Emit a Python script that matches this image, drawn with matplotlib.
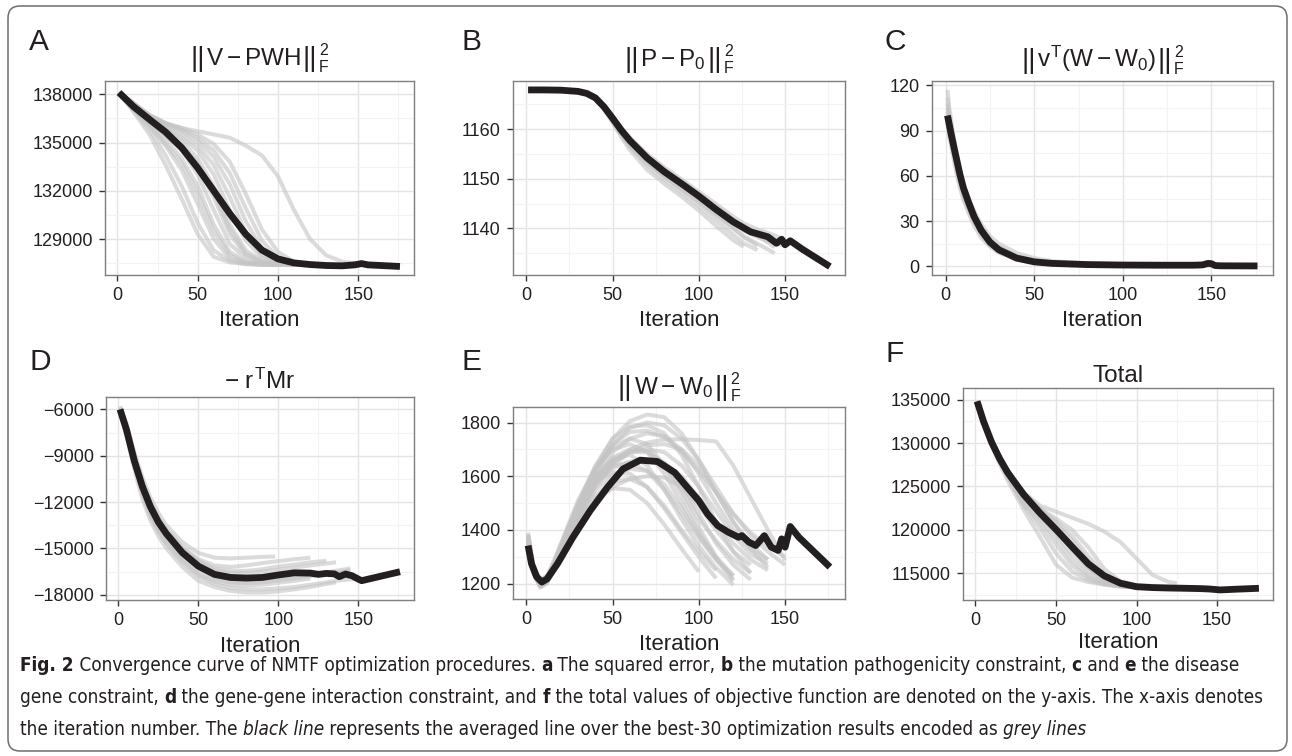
import matplotlib
matplotlib.use("Agg")
import matplotlib.pyplot as plt
from matplotlib import font_manager
from matplotlib.font_manager import FontProperties
from matplotlib.ticker import FixedLocator, FuncFormatter, AutoMinorLocator
from matplotlib.patches import FancyBboxPatch
from matplotlib.transforms import IdentityTransform

# ------------------------------------------------------------------ data
# Panel A : ||V - PWH||_F^2
A_grid = [1, 10, 20, 30, 40, 50, 60, 70, 80, 90, 100, 110, 120, 130, 140, 150]
A_grey = [
    [138100, 136900, 135500, 133600, 131500, 129300, 127900, 127550, 127450, 127400],
    [138100, 137000, 135800, 134200, 132300, 130000, 128300, 127650, 127450, 127400, 127380],
    [138100, 137100, 136000, 134800, 133300, 131200, 129000, 127800, 127500, 127420, 127400],
    [138100, 137200, 136200, 135200, 134000, 132300, 129900, 128200, 127600, 127450, 127400, 127380],
    [138100, 137300, 136400, 135500, 134500, 133000, 130800, 128700, 127800, 127500, 127420, 127400],
    [138100, 137250, 136300, 135400, 134600, 133500, 131600, 129300, 128000, 127550, 127430, 127400],
    [138100, 137300, 136500, 135800, 135100, 134000, 132300, 129900, 128300, 127650, 127450, 127400, 127380],
    [138100, 137350, 136500, 135900, 135300, 134500, 133000, 130800, 128900, 127850, 127500, 127420, 127400],
    [138100, 137400, 136600, 136000, 135500, 134800, 133600, 131600, 129400, 128000, 127550, 127430, 127400],
    [138100, 137400, 136600, 136100, 135700, 135100, 134100, 132400, 130100, 128400, 127700, 127480, 127420, 127400],
    [138100, 137450, 136700, 136200, 135800, 135300, 134500, 133100, 130900, 128900, 127850, 127520, 127430, 127400],
    [138100, 137450, 136700, 136200, 135900, 135500, 134900, 133800, 131800, 129600, 128200, 127600, 127450, 127400],
    [138100, 137400, 136700, 136200, 135900, 135700, 135500, 135300, 134800, 134200, 132900, 130800, 129000, 128000, 127600, 127480],
    [138100, 137150, 136100, 134900, 133700, 131800, 129500, 128000, 127550, 127430, 127400],
    [138100, 137300, 136400, 135600, 134800, 133700, 131900, 129600, 128100, 127600, 127440, 127400],
]
A_black_x = [1, 10, 20, 30, 40, 50, 60, 70, 80, 90, 100, 110, 120, 130, 140, 148, 152, 156, 176]
A_black_y = [138100, 137230, 136430, 135650, 134680, 133420, 132000, 130580, 129300, 128320,
             127770, 127520, 127420, 127360, 127340, 127400, 127480, 127400, 127300]

# Panel B : ||P - P0||_F^2
B_grid = [1, 10, 20, 30, 35, 40, 45, 50, 55, 60, 70, 80, 90, 100, 110, 120, 126, 134, 144, 150]
B_grey = [
    [1167.9, 1167.9, 1167.85, 1167.6, 1167.2, 1166.2, 1164.0, 1161.3, 1158.4, 1155.8, 1151.8, 1149.0,
     1146.4, 1143.6, 1140.5, 1137.6, 1136.3],
    [1167.9, 1167.9, 1167.85, 1167.6, 1167.2, 1166.3, 1164.3, 1161.7, 1159.0, 1156.5, 1152.7, 1149.8,
     1147.2, 1144.5, 1141.6, 1138.7, 1137.0, 1135.6],
    [1167.9, 1167.9, 1167.85, 1167.6, 1167.2, 1166.3, 1164.5, 1162.0, 1159.4, 1157.1, 1153.4, 1150.5,
     1147.9, 1145.3, 1142.6, 1139.9, 1138.4, 1136.9, 1135.0],
    [1167.9, 1167.9, 1167.85, 1167.6, 1167.3, 1166.5, 1164.8, 1162.6, 1160.3, 1158.3, 1155.0, 1152.3,
     1149.9, 1147.4, 1144.9, 1142.4, 1141.0, 1139.8, 1138.6, 1137.6],
    [1167.9, 1167.9, 1167.85, 1167.6, 1167.3, 1166.4, 1164.7, 1162.4, 1160.0, 1158.0, 1154.6, 1151.9,
     1149.5, 1147.0, 1144.4, 1141.8, 1140.3, 1138.6, 1136.2],
    [1167.9, 1167.9, 1167.85, 1167.6, 1167.2, 1166.3, 1164.4, 1161.9, 1159.4, 1157.3, 1153.8, 1151.1,
     1148.7, 1146.2, 1143.6, 1141.0, 1139.5, 1138.2, 1137.0, 1136.5],
    [1167.9, 1167.9, 1167.85, 1167.6, 1167.2, 1166.2, 1164.1, 1161.5, 1158.8, 1156.6, 1153.2, 1150.4,
     1148.0, 1145.5, 1142.8, 1140.1, 1138.2, 1136.5],
]
B_black_x = [1, 10, 20, 30, 35, 40, 45, 50, 55, 60, 70, 80, 90, 100, 110, 120, 130, 140, 145, 148,
             150, 153, 160, 176]
B_black_y = [1167.9, 1167.9, 1167.85, 1167.6, 1167.2, 1166.3, 1164.5, 1162.2, 1159.8, 1157.7, 1154.2,
             1151.4, 1149.0, 1146.5, 1143.8, 1141.3, 1139.3, 1138.3, 1137.0, 1137.8, 1136.7, 1137.5,
             1135.8, 1132.3]

# Panel C : ||v^T (W - W0)||_F^2
C_grid = [1, 2, 4, 6, 8, 10, 13, 16, 20, 25, 30, 40, 50, 60, 80, 100, 120, 125, 140, 150]
C_grey = [
    [117, 105, 90, 76, 64, 55, 45, 37, 28, 20, 15, 9, 5.5, 3.5, 2, 1.5, 1.2, 1.2],
    [112, 100, 85, 72, 61, 52, 42, 34, 26, 18, 13, 7, 4, 2.5, 1.5, 1.2, 1, 1, 0.9, 0.8],
    [105, 94, 80, 68, 57, 48, 39, 31, 23, 16, 11, 6, 3.5, 2, 1.2, 1, 0.9, 0.9, 0.8, 0.8],
    [100, 90, 77, 65, 55, 46, 37, 29, 21, 14, 10, 5, 3, 1.8, 1.1, 0.9, 0.8, 0.8, 0.8],
    [95, 86, 74, 62, 52, 44, 35, 27, 19, 13, 9, 4.5, 2.5, 1.5, 1, 0.8, 0.7, 0.7, 0.7, 0.7],
    [108, 97, 84, 71, 60, 51, 41, 33, 25, 17, 12, 6.5, 3.8, 2.3, 1.4, 1.1, 1, 1],
]
C_black_x = [1, 3, 5, 8, 10, 13, 16, 20, 25, 30, 40, 50, 60, 80, 100, 120, 140, 145, 148, 150, 152,
             155, 176]
C_black_y = [100, 88, 77, 61, 52, 42, 33, 24, 16, 11, 5.5, 3, 2, 1.2, 0.9, 0.8, 0.8, 1.0, 2.0, 1.8,
             0.6, 0.4, 0.3]

# Panel D : -r^T M r
D_grid = [1, 5, 10, 15, 20, 25, 30, 40, 50, 60, 70, 80, 90, 98, 110, 120, 130, 136, 145, 150]
D_grey = [
    [-5800, -6900, -8800, -10400, -11700, -12700, -13500, -14600, -15300, -15600, -15650, -15600, -15550, -15520],
    [-5900, -7100, -9100, -10700, -12000, -13000, -13800, -14900, -15700, -16100, -16200, -16100, -15950,
     -15850, -15700, -15600],
    [-6000, -7200, -9200, -10900, -12200, -13200, -14000, -15100, -15900, -16400, -16600, -16600, -16500,
     -16400, -16250, -16100, -15980, -15900],
    [-6000, -7300, -9400, -11100, -12400, -13400, -14200, -15400, -16300, -16850, -17100, -17150, -17100,
     -17000, -16850, -16700, -16550, -16450, -16300],
    [-6100, -7500, -9700, -11500, -12900, -13900, -14700, -15900, -16800, -17300, -17550, -17650, -17650,
     -17600, -17500, -17350, -17200, -17100, -17000, -16990],
    [-6200, -7700, -9900, -11800, -13200, -14200, -15000, -16200, -17100, -17500, -17750, -17850, -17850,
     -17800, -17650, -17500, -17300, -17200],
    [-6000, -7350, -9500, -11200, -12600, -13600, -14400, -15600, -16500, -17000, -17200, -17250, -17200,
     -17100, -16950, -16800, -16650, -16550, -16400],
    [-5900, -7100, -9100, -10800, -12100, -13100, -13900, -15000, -15800, -16300, -16450, -16450, -16350,
     -16200, -16050, -15900, -15800],
    [-6050, -7400, -9600, -11400, -12800, -13800, -14600, -15800, -16700, -17150, -17350, -17400, -17350,
     -17250, -17100, -16950],
]
D_black_x = [1, 5, 10, 15, 20, 25, 30, 40, 50, 60, 70, 80, 90, 100, 110, 120, 125, 130, 135, 138, 142,
             146, 150, 152, 176]
D_black_y = [-6000, -7300, -9350, -11000, -12300, -13300, -14050, -15280, -16150, -16680, -16880, -16920,
             -16880, -16720, -16580, -16600, -16680, -16620, -16650, -16830, -16660, -16770, -16990,
             -17090, -16510]

# Panel E : ||W - W0||_F^2
E_grid = [1, 4, 8, 12, 16, 20, 30, 40, 50, 60, 70, 80, 90, 100, 110, 120, 130, 140, 150]
E_grey = [
    [1370, 1260, 1210, 1225, 1270, 1330, 1490, 1630, 1740, 1805, 1830, 1820, 1760, 1660, 1540, 1430, 1350, 1290],
    [1360, 1255, 1205, 1215, 1255, 1310, 1450, 1570, 1650, 1700, 1725, 1737, 1738, 1735, 1730, 1640, 1520, 1400, 1287],
    [1380, 1265, 1210, 1225, 1275, 1340, 1500, 1640, 1740, 1785, 1790, 1760, 1680, 1560, 1430, 1320, 1240],
    [1350, 1250, 1200, 1215, 1260, 1320, 1470, 1600, 1690, 1740, 1760, 1750, 1700, 1610, 1500, 1400, 1330, 1290],
    [1390, 1270, 1215, 1230, 1285, 1350, 1510, 1630, 1700, 1720, 1690, 1610, 1500, 1390, 1300, 1230],
    [1340, 1240, 1190, 1205, 1250, 1310, 1460, 1590, 1670, 1700, 1695, 1640, 1550, 1440, 1360, 1290, 1240],
    [1360, 1245, 1185, 1200, 1250, 1310, 1460, 1590, 1660, 1680, 1640, 1550, 1440, 1340, 1260, 1195],
    [1370, 1255, 1200, 1215, 1265, 1325, 1470, 1580, 1640, 1650, 1620, 1550, 1460, 1370, 1290, 1230],
    [1385, 1265, 1210, 1225, 1280, 1345, 1490, 1580, 1615, 1610, 1560, 1480, 1390, 1300, 1220],
    [1350, 1245, 1195, 1210, 1255, 1310, 1440, 1530, 1580, 1590, 1560, 1490, 1400, 1320, 1250],
    [1340, 1240, 1190, 1205, 1250, 1300, 1430, 1520, 1555, 1550, 1500, 1420, 1330, 1245],
    [1355, 1250, 1200, 1212, 1250, 1300, 1410, 1500, 1560, 1590, 1600, 1595, 1560, 1490, 1400, 1320, 1270],
    [1345, 1245, 1195, 1208, 1250, 1305, 1440, 1560, 1640, 1690, 1715, 1720, 1700, 1640, 1540, 1430, 1330, 1260],
    [1375, 1260, 1205, 1220, 1270, 1330, 1480, 1600, 1665, 1690, 1690, 1650, 1570, 1460, 1350, 1270, 1215],
    [1365, 1255, 1205, 1218, 1262, 1320, 1460, 1570, 1630, 1655, 1660, 1650, 1600, 1520, 1430, 1350, 1290, 1250],
    [1360, 1250, 1200, 1215, 1260, 1325, 1480, 1620, 1720, 1765, 1770, 1745, 1690, 1620, 1540, 1460, 1390, 1340, 1300],
    [1375, 1262, 1205, 1220, 1270, 1335, 1495, 1630, 1710, 1740, 1720, 1640, 1530, 1410, 1300, 1215],
    [1350, 1248, 1198, 1212, 1255, 1312, 1450, 1550, 1605, 1628, 1620, 1570, 1480, 1380, 1290, 1210],
    [1365, 1255, 1203, 1216, 1262, 1322, 1465, 1580, 1650, 1690, 1700, 1690, 1640, 1560, 1470, 1380, 1310, 1275],
    [1355, 1250, 1200, 1214, 1258, 1318, 1470, 1610, 1715, 1780, 1800, 1790, 1740, 1660, 1560, 1460, 1380, 1320, 1270],
]
E_black_x = [1, 3, 6, 9, 12, 18, 27, 37, 47, 56, 66, 76, 86, 95, 100, 105, 111, 117, 123, 125, 129, 133,
             138, 142, 146, 148, 150, 153, 158, 176]
E_black_y = [1342, 1274, 1225, 1206, 1218, 1274, 1373, 1472, 1559, 1627, 1660, 1655, 1614, 1546, 1509,
             1460, 1416, 1392, 1373, 1379, 1355, 1342, 1379, 1336, 1324, 1367, 1336, 1413, 1373, 1262]

# Panel F : Total
F_grid = [1, 5, 10, 15, 20, 25, 30, 40, 50, 60, 70, 80, 90, 100, 110, 120, 125, 135, 145, 150]
F_grey = [
    [134900, 132400, 129800, 127600, 125700, 124000, 122300, 119200, 116000, 114500, 114000, 113700, 113500, 113400],
    [134800, 132600, 130300, 128500, 126900, 125500, 124300, 122800, 122100, 121400, 120700, 119800, 118600,
     116700, 114800, 114000, 113850],
    [134850, 132450, 130000, 127900, 126100, 124400, 122800, 120200, 117300, 115200, 114200, 113700, 113450, 113350],
    [134800, 132500, 130100, 128100, 126400, 124800, 123300, 121200, 119000, 116500, 114700, 113900, 113550,
     113400, 113350],
    [134800, 132550, 130250, 128300, 126700, 125200, 123900, 122000, 120300, 118200, 115800, 114300, 113700,
     113450, 113350, 113300],
    [134800, 132550, 130300, 128400, 126800, 125400, 124200, 122400, 121000, 119300, 117000, 114900, 113900,
     113550, 113400, 113350, 113320, 113300],
    [134850, 132500, 130150, 128200, 126500, 125000, 123600, 121600, 119600, 117200, 115200, 114100, 113600,
     113400, 113350, 113300, 113300, 113280, 113250],
    [134800, 132600, 130350, 128500, 126900, 125500, 124300, 122300, 120800, 118800, 116400, 114600, 113800,
     113600, 113550, 113500, 113450, 113400],
    [134850, 132450, 130050, 128000, 126200, 124600, 123000, 120800, 118300, 115900, 114500, 113800, 113500,
     113400, 113350, 113300],
    [134800, 132550, 130300, 128450, 126850, 125450, 124250, 122500, 121300, 120000, 118000, 115500, 114100,
     113600, 113450, 113400, 113380],
    [134850, 132500, 130200, 128300, 126600, 125100, 123800, 121800, 120000, 117800, 115600, 114200, 113650,
     113450, 113400, 113350],
]
F_black_x = [1, 5, 10, 15, 20, 30, 40, 50, 60, 70, 80, 90, 100, 110, 120, 130, 140, 145, 152, 160, 176]
F_black_y = [134810, 132500, 130100, 128200, 126600, 124050, 121950, 120050, 118050, 116100, 114700,
             113850, 113450, 113350, 113300, 113270, 113230, 113190, 113080, 113150, 113270]

X_TICKS = [0, 50, 100, 150]
A_yticks = [129000, 132000, 135000, 138000]
B_yticks = [1140, 1150, 1160]
C_yticks = [0, 30, 60, 90, 120]
D_yticks = [-18000, -15000, -12000, -9000, -6000]
E_yticks = [1200, 1400, 1600, 1800]
F_yticks = [115000, 120000, 125000, 130000, 135000]

letters = ["A", "B", "C", "D", "E", "F"]
title_inner = [r"$V - PWH$", r"$P - P_0$", r"$v^T(W - W_0)$", r"$-\ r^TMr$", r"$W - W_0$", "Total"]
title_norm = [True, True, True, False, True, False]
norm_bars, norm_sub, norm_sup = "||", "F", "2"
x_label = "Iteration"

caption_lines = [
    [("Fig. 2", "b"), (" Convergence curve of NMTF optimization procedures. ", "n"), ("a", "b"),
     (" The squared error, ", "n"), ("b", "b"), (" the mutation pathogenicity constraint, ", "n"),
     ("c", "b"), (" and ", "n"), ("e", "b"), (" the disease", "n")],
    [("gene constraint, ", "n"), ("d", "b"), (" the gene-gene interaction constraint, and ", "n"),
     ("f", "b"), (" the total values of objective function are denoted on the y-axis. The x-axis denotes", "n")],
    [("the iteration number. The ", "n"), ("black line", "i"),
     (" represents the averaged line over the best-30 optimization results encoded as ", "n"),
     ("grey lines", "i")],
]

# ------------------------------------------------------------------ style
W, H = 1292, 756
DARK = "#231f20"
GREY = "#c4c4c4"
plt.rcParams["font.family"] = ["Liberation Sans", "DejaVu Sans"]
plt.rcParams["mathtext.fontset"] = "custom"
plt.rcParams["mathtext.rm"] = "Liberation Sans"
plt.rcParams["mathtext.it"] = "Liberation Sans"
plt.rcParams["mathtext.sf"] = "Liberation Sans"
plt.rcParams["mathtext.bf"] = "Liberation Sans:bold"
plt.rcParams["axes.unicode_minus"] = True

fig = plt.figure(figsize=(W / 100, H / 100), dpi=100)
renderer = fig.canvas.get_renderer()

# rounded outer frame
frame = FancyBboxPatch((8, 756 - 751), 1279, 745, boxstyle="round,pad=0,rounding_size=12",
                       transform=IdentityTransform(), fill=False, edgecolor="#6d6e71", lw=1.1)
fig.patches.append(frame)

fmt = FuncFormatter(lambda v, p: f"{v:.0f}".replace("-", "\u2212"))

panels = [
    dict(rect=(105, 81, 414, 275), grid=A_grid, grey=A_grey, bx=A_black_x, by=A_black_y,
         yt=A_yticks, ylim=(126770, 138820)),
    dict(rect=(513, 81, 845, 275), grid=B_grid, grey=B_grey, bx=B_black_x, by=B_black_y,
         yt=B_yticks, ylim=(1130.6, 1169.7)),
    dict(rect=(932, 81, 1273, 275), grid=C_grid, grey=C_grey, bx=C_black_x, by=C_black_y,
         yt=C_yticks, ylim=(-5.7, 122.9)),
    dict(rect=(106, 397, 414, 600), grid=D_grid, grey=D_grey, bx=D_black_x, by=D_black_y,
         yt=D_yticks, ylim=(-18340, -5200)),
    dict(rect=(513, 407, 845, 599), grid=E_grid, grey=E_grey, bx=E_black_x, by=E_black_y,
         yt=E_yticks, ylim=(1143, 1858)),
    dict(rect=(963, 388, 1273, 600), grid=F_grid, grey=F_grey, bx=F_black_x, by=F_black_y,
         yt=F_yticks, ylim=(111920, 136350)),
]
letter_pos = [(29, 50), (462, 50), (885, 50), (29, 370), (462, 370), (885, 362)]
title_base = [65, 66, 67, 389, 394, 382]
xlabel_base = [326, 326, 326, 652, 650, 648]


def fx(x):
    return x / W


def fy(y):
    return 1 - y / H


def text_w(s, fp, ismath=False):
    if ismath:
        return renderer.get_text_width_height_descent(s, fp, ismath=True)[0]
    w1 = renderer.get_text_width_height_descent("|" + s + "|", fp, ismath=False)[0]
    w0 = renderer.get_text_width_height_descent("||", fp, ismath=False)[0]
    return w1 - w0


TITLE_SIZE, BAR_SIZE, SS_SIZE = 17.5, 20.5, 11.5


def draw_title(cx, base, inner, norm):
    fp_t = FontProperties(family="Liberation Sans", size=TITLE_SIZE)
    is_math = inner.startswith("$")
    if not norm:
        fig.text(fx(cx), fy(base), inner, ha="center", va="baseline", fontproperties=fp_t, color=DARK)
        return
    fp_b = FontProperties(family="Liberation Sans", size=BAR_SIZE)
    fp_s = FontProperties(family="Liberation Sans", size=SS_SIZE)
    wb = renderer.get_text_width_height_descent(norm_bars, fp_b, ismath=False)[0]
    wi = text_w(inner, fp_t, is_math)
    ws = max(text_w(norm_sub, fp_s), text_w(norm_sup, fp_s))
    gap = 1.5
    total = wb + gap + wi + gap + wb + 2 + ws
    x = cx - total / 2
    fig.text(fx(x), fy(base + 1), norm_bars, ha="left", va="baseline", fontproperties=fp_b, color=DARK)
    x += wb + gap
    fig.text(fx(x), fy(base), inner, ha="left", va="baseline", fontproperties=fp_t, color=DARK)
    x += wi + gap
    fig.text(fx(x), fy(base + 1), norm_bars, ha="left", va="baseline", fontproperties=fp_b, color=DARK)
    x += wb + 2
    fig.text(fx(x), fy(base - 10), norm_sup, ha="left", va="baseline", fontproperties=fp_s, color=DARK)
    fig.text(fx(x), fy(base + 7), norm_sub, ha="left", va="baseline", fontproperties=fp_s, color=DARK)


for i, p in enumerate(panels):
    l, t, r, b = p["rect"]
    ax = fig.add_axes([fx(l), fy(b), (r - l) / W, (b - t) / H])
    for ys in p["grey"]:
        ax.plot(p["grid"][:len(ys)], ys, color=GREY, alpha=0.6, lw=2.9,
                solid_capstyle="butt", solid_joinstyle="round", zorder=2)
    ax.plot(p["bx"], p["by"], color=DARK, lw=4.9, solid_capstyle="butt",
            solid_joinstyle="round", zorder=3)
    ax.set_xlim(-7.75, 184.75)
    ax.set_ylim(*p["ylim"])
    ax.xaxis.set_major_locator(FixedLocator(X_TICKS))
    ax.yaxis.set_major_locator(FixedLocator(p["yt"]))
    ax.xaxis.set_minor_locator(AutoMinorLocator(2))
    ax.yaxis.set_minor_locator(AutoMinorLocator(2))
    ax.yaxis.set_major_formatter(fmt)
    ax.xaxis.set_major_formatter(fmt)
    ax.grid(True, which="major", color="#e4e4e4", lw=1.0, zorder=0)
    ax.grid(True, which="minor", color="#f3f3f3", lw=0.8, zorder=0)
    ax.set_axisbelow(True)
    for s in ax.spines.values():
        s.set_color("#7f7f7f")
        s.set_linewidth(1.0)
    ax.tick_params(which="major", length=4.3, width=1.0, color="#333333", labelcolor=DARK,
                   labelsize=13, pad=4.5)
    ax.tick_params(which="minor", length=0)

    cx = (l + r) / 2
    draw_title(cx, title_base[i], title_inner[i], title_norm[i])
    fig.text(fx(cx), fy(xlabel_base[i]), x_label, ha="center", va="baseline",
             fontsize=16, color=DARK)
    lx, ly = letter_pos[i]
    fig.text(fx(lx), fy(ly), letters[i], ha="left", va="baseline", fontsize=21.5, color=DARK)

# ------------------------------------------------------------------ caption
names = {f.name for f in font_manager.fontManager.ttflist}
if "Liberation Sans Narrow" in names:
    cap_family, cap_stretch = "Liberation Sans Narrow", "normal"
else:
    cap_family, cap_stretch = "DejaVu Sans", "condensed"


def props(kind, size):
    return FontProperties(family=cap_family, size=size, stretch=cap_stretch,
                          weight="bold" if kind == "b" else "normal",
                          style="italic" if kind == "i" else "normal")


ref_size = 12.0
w_line1 = sum(text_w(s, props(k, ref_size)) for s, k in caption_lines[0])
cap_size = ref_size * 1225.0 / w_line1

cap_baselines = [671, 703, 735]
for line, yb in zip(caption_lines, cap_baselines):
    x = 20.0
    for s, k in line:
        fp = props(k, cap_size)
        fig.text(fx(x), fy(yb), s, fontproperties=fp, ha="left", va="baseline", color=DARK)
        x += text_w(s, fp)

fig.savefig("out.png", dpi=100)
